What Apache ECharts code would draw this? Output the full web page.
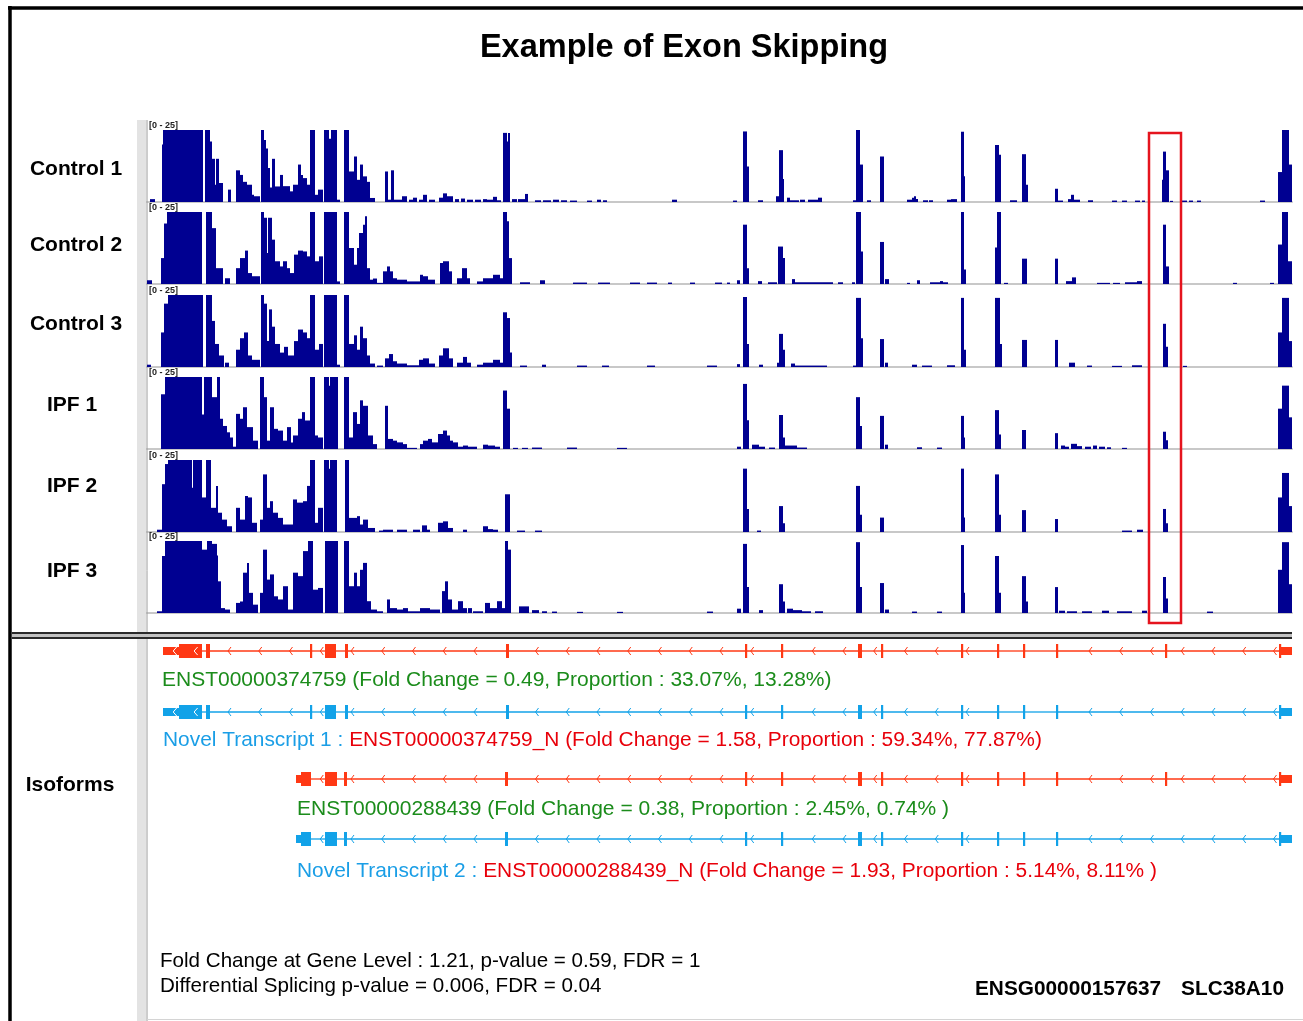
<!DOCTYPE html>
<html>
<head>
<meta charset="utf-8">
<title>Example of Exon Skipping</title>
<script src="https://cdn.jsdelivr.net/npm/echarts@6/dist/echarts.min.js"></script>
<style>
html, body { margin: 0; padding: 0; background: #fff; }
#chart { width: 1303px; height: 1021px; }
</style>
</head>
<body>
<div id="chart"></div>
<script>
// coverage per sample: [start, end, depth], positions in view bins (0 - 1145), depth range [0 - 25]
var control1 = [[3,8,1],[15,16,20],[16,56,25],[58,63,25],[63,65,21],[65,68,15],[68,69,6],[69,72,15],[72,76,6.6],[81,84,4.3],[89,93,11],[93,96,9.4],[96,100,7],[100,105,6],[105,107,2.5],[107,113,2],[114,117,25],[117,119,21.5],[119,121,18.6],[121,123,11.8],[123,125,5],[125,128,15],[128,133,5.4],[133,136,9.4],[136,143,5.5],[143,146,3.7],[146,151,6],[151,154,13],[154,156,9.4],[156,160,8.3],[160,163,6],[163,168,25],[168,171,2.5],[171,176,4.3],[177,182,25],[182,184,22],[184,190,25],[190,193,0.8],[197,202,25],[202,207,10.6],[207,210,15.8],[210,213,7.7],[213,216,13],[216,220,8.9],[220,223,7],[223,228,1.4],[238,241,10.6],[241,244,0.8],[244,247,11],[247,255,0.8],[255,260,2],[262,266,0.8],[266,270,1.5],[272,276,0.8],[276,280,2.5],[282,288,0.8],[292,296,1.5],[296,300,3],[300,306,2],[308,312,1],[314,318,1.2],[320,326,0.8],[328,334,0.8],[336,340,1],[340,346,0.8],[346,350,1.8],[350,354,0.6],[356,360,24],[360,361,21],[361,363,24],[365,370,1],[371,378,1],[378,381,2.8],[388,394,0.6],[396,404,0.6],[406,412,0.8],[414,420,0.6],[423,430,0.5],[440,445,0.5],[450,454,0.8],[456,460,0.6],[525,530,0.8],[586,590,0.5],[596,600,24.5],[600,602,12.3],[611,616,0.6],[629,632,2],[632,636,18],[636,637,8],[640,643,1.5],[643,652,0.6],[653,658,0.8],[661,673,0.8],[671,675,1.5],[706,709,0.6],[709,713,25],[713,716,13],[720,724,0.6],[733,737,15.8],[760,765,0.8],[765,767,1.5],[767,769,2],[769,771,1],[776,781,0.6],[782,786,0.6],[800,804,0.8],[804,810,1],[814,817,24.4],[817,818,8.9],[848,852,19.8],[852,854,16.4],[863,870,0.6],[875,879,16.6],[879,881,6],[908,911,4.6],[911,916,0.5],[921,924,1],[924,927,2.5],[927,933,0.8],[941,946,0.6],[965,970,0.5],[975,980,0.5],[988,993,0.5],[995,998,0.5],[1015,1016,7.7],[1016,1019,17.5],[1019,1022,11],[1023,1026,0.4],[1035,1040,0.5],[1042,1046,0.5],[1050,1054,0.5],[1113,1118,0.5],[1131,1135,10.4],[1135,1142,25],[1142,1145,13]];

var control2 = [[0,5,1.3],[14,17,9],[17,20,21],[20,55,25],[59,65,25],[65,69,19.4],[69,76,5.5],[78,83,2],[89,93,5.5],[93,98,9],[98,101,11.6],[101,105,3.8],[105,113,2.7],[114,117,25],[117,120,23],[120,121,10.8],[121,125,23],[125,128,15.4],[128,133,7.9],[133,136,6.1],[136,140,7.9],[140,143,5.5],[143,147,3.8],[147,151,10.2],[151,156,11.6],[156,160,11.3],[160,163,9.6],[163,168,25],[168,172,7.9],[172,176,9.6],[177,190,25],[190,193,0.9],[197,202,25],[202,207,12.5],[207,210,6.7],[210,212,12.5],[212,216,17.7],[216,218,20.6],[218,220,23.5],[220,223,5.5],[223,226,1.5],[226,230,1.9],[230,236,0.4],[236,240,4.4],[240,243,6.1],[243,246,4.4],[246,250,2],[250,260,1.5],[260,273,0.9],[273,276,3.2],[276,281,2.7],[281,288,1.5],[293,296,7.3],[296,302,7.9],[302,305,4.4],[310,315,2],[315,320,5.5],[320,323,2],[330,336,0.9],[336,346,2],[346,353,3.2],[353,356,2],[356,360,25],[360,362,21.8],[362,365,9],[373,383,0.6],[393,398,1.3],[426,440,0.5],[451,463,0.5],[483,493,0.5],[500,510,0.5],[521,525,0.5],[543,548,0.5],[568,575,0.5],[580,583,0.5],[590,593,1.3],[596,600,20.6],[600,602,5.5],[611,615,1],[621,630,0.6],[631,636,13],[636,638,9],[645,648,1.7],[648,686,0.6],[691,696,0.6],[705,708,0.6],[709,714,25],[714,716,11.3],[733,737,14.6],[738,742,1.7],[760,763,0.4],[770,773,1.3],[783,801,0.6],[793,796,1],[814,817,25],[817,819,5],[848,850,12.7],[850,854,25],[857,861,0.4],[875,880,8.8],[908,911,8.8],[919,925,1],[925,929,2.3],[950,963,0.4],[966,973,0.4],[978,990,0.6],[990,995,1],[1016,1019,20.6],[1019,1022,6.1],[1086,1090,0.4],[1123,1127,0.4],[1131,1135,13.7],[1135,1141,25],[1141,1145,7.9]];

var control3 = [[0,4,0.8],[14,17,12],[17,21,22],[21,56,25],[59,65,25],[65,68,16],[68,72,8],[72,77,4],[78,82,1.5],[89,93,6],[93,97,10],[97,101,12],[101,105,4],[105,113,2.5],[114,117,25],[117,120,22],[120,122,9],[122,125,20],[125,128,14],[128,133,8],[133,137,5],[137,141,7],[141,147,4],[147,151,9],[151,156,13],[156,160,12],[160,163,10],[163,168,25],[168,172,6],[172,176,8],[177,190,25],[190,193,0.8],[197,202,25],[202,207,8],[207,210,11],[210,213,6],[213,216,14],[216,220,10],[220,223,4],[223,228,1.2],[230,236,0.5],[238,242,3],[242,246,4.5],[246,250,2],[250,260,1.2],[260,272,0.6],[272,276,2.5],[276,282,3],[282,288,1.2],[292,296,4],[296,302,6.5],[302,306,3],[310,316,1.5],[316,320,3.5],[320,324,1.5],[330,336,0.8],[336,346,1.5],[346,353,2.5],[353,356,1.5],[356,360,19],[360,363,17],[363,365,5],[373,380,0.5],[395,399,0.8],[430,440,0.5],[455,462,0.5],[500,508,0.5],[560,570,0.5],[590,593,1],[596,600,24.3],[600,602,8],[612,616,0.8],[630,632,1.5],[632,636,11.5],[636,638,6],[644,648,1.2],[648,680,0.5],[706,709,0.5],[709,714,24],[714,716,10],[733,737,9.7],[738,741,1.5],[765,770,0.8],[775,785,0.5],[800,808,0.6],[814,817,24],[817,819,6],[848,853,24],[853,855,8],[875,880,9.4],[908,911,9.4],[922,928,1.5],[940,945,0.5],[965,975,0.4],[985,995,0.6],[1016,1019,15],[1019,1021,7],[1036,1040,0.4],[1131,1135,12],[1135,1142,24],[1142,1145,9]];

var ipf1 = [[14,18,19],[18,55,25],[55,57,12],[57,65,25],[65,70,18],[70,73,25],[73,76,10.5],[76,80,8],[80,83,5.8],[83,86,4],[86,90,0.8],[89,93,12.2],[93,96,10.5],[96,100,14.5],[100,106,7.6],[106,111,2.9],[113,117,25],[117,120,18],[120,123,2.9],[123,127,14.5],[127,131,7],[131,136,6.4],[136,140,2.9],[140,144,7.6],[144,146,2.3],[146,151,4.7],[151,155,10.5],[155,158,12.8],[158,163,9.9],[163,168,25],[168,171,4.7],[171,176,4],[177,182,25],[182,183,22],[183,191,25],[197,202,25],[202,206,4],[206,210,12.8],[210,213,8.7],[213,216,16.9],[216,221,15],[221,226,4.7],[226,230,1.7],[238,241,15],[241,246,3.5],[246,250,2.9],[250,256,2.3],[256,260,1.7],[260,270,0.4],[273,276,1.7],[276,281,2.9],[281,285,3.5],[285,291,2.3],[291,296,5.2],[296,300,6.4],[300,303,4.7],[303,306,2.9],[306,311,2.3],[311,316,0.8],[316,321,1.2],[321,330,0.8],[336,341,1.5],[341,348,1.2],[348,353,0.8],[356,360,20.3],[360,363,14],[366,371,0.4],[375,381,0.4],[385,395,0.5],[420,430,0.5],[470,480,0.4],[590,594,0.8],[596,600,22.6],[600,602,10],[605,612,1.5],[612,618,0.8],[622,628,0.5],[632,636,11.8],[636,638,4],[638,650,1.2],[650,660,0.5],[709,713,18],[713,715,8],[733,737,11.5],[738,741,1.5],[770,775,0.6],[790,795,0.5],[814,817,11.5],[817,818,4],[848,852,13.5],[852,854,5],[875,879,6.6],[908,911,5.5],[914,918,1.2],[918,922,0.8],[924,930,1.8],[930,935,1],[938,944,0.8],[946,950,1.2],[952,958,0.8],[960,964,0.6],[975,980,0.4],[1016,1019,6],[1019,1021,3],[1131,1135,14],[1135,1142,22],[1142,1145,11]];

var ipf2 = [[10,15,0.8],[15,18,16.6],[18,21,23.6],[21,45,25],[45,46,15.4],[46,55,25],[55,59,12],[59,64,25],[64,69,8.4],[69,71,16],[71,75,6.7],[75,80,4.3],[80,85,2],[89,93,8.4],[93,98,4.3],[98,101,12.5],[101,105,12],[105,110,3.2],[113,116,4.3],[116,120,20],[120,123,8.4],[123,126,10.7],[126,131,6.7],[131,136,4.9],[136,146,2.6],[146,150,11.3],[150,156,10.2],[156,160,10.7],[160,163,16],[163,168,25],[168,171,3.2],[171,176,8.4],[177,182,25],[182,183,22],[183,190,25],[198,202,25],[202,206,4.9],[206,210,4.9],[210,213,5.5],[213,216,2.6],[216,221,4.3],[221,228,1.4],[232,236,0.5],[236,246,0.8],[250,260,0.8],[266,273,0.8],[275,280,2.3],[280,283,0.8],[291,296,3.2],[296,301,3.7],[301,306,1.4],[316,320,0.8],[336,341,2],[341,346,1],[346,351,0.8],[358,363,13.1],[370,378,0.5],[388,395,0.5],[596,600,22],[600,602,8],[610,614,0.5],[632,636,9],[636,638,3],[709,713,16],[713,715,6],[733,737,5],[814,817,22],[817,818,5],[848,852,20],[852,854,6],[875,879,7.6],[908,911,4.5],[975,985,0.5],[990,996,0.8],[1016,1019,8],[1019,1021,3],[1131,1135,12],[1135,1142,20.5],[1142,1145,9]];

var ipf3 = [[10,15,0.6],[15,18,19.8],[18,55,25],[55,60,22],[60,65,25],[65,70,24],[70,71,20],[71,74,11],[74,78,1.7],[78,83,1.2],[89,93,3.5],[93,96,4],[96,100,14],[100,102,17.4],[102,106,7],[106,111,2.9],[113,116,7],[116,120,22],[120,123,11.6],[123,127,13.4],[127,131,5.8],[131,136,4.7],[136,141,9.3],[141,146,1.2],[146,151,14],[151,156,12.8],[156,161,21.5],[161,166,25],[166,171,8.1],[171,176,8.7],[178,191,25],[197,202,25],[202,207,9.3],[207,210,14],[210,213,9.3],[213,216,15],[216,220,17.4],[220,224,4.1],[224,230,1.2],[230,236,0.6],[240,243,4.7],[243,250,1.7],[250,256,1.2],[256,261,1.7],[261,273,0.6],[273,283,1.7],[283,293,1.2],[295,298,7.6],[298,301,11],[301,305,4.7],[305,311,1.2],[311,316,4.1],[316,320,1.7],[321,325,1.7],[326,336,0.6],[338,343,3.5],[343,350,1.7],[350,355,4.1],[355,358,1.7],[358,361,25],[361,364,22],[372,382,2.3],[385,392,1],[395,400,0.6],[405,410,0.5],[430,436,0.4],[470,476,0.4],[560,566,0.5],[590,594,1.5],[596,600,24],[600,602,9],[612,616,1],[632,636,10],[636,638,4],[640,646,1.5],[646,655,1],[655,664,0.6],[668,676,0.6],[709,713,24.6],[713,715,9],[733,737,10.4],[738,742,1.2],[765,770,0.5],[790,795,0.5],[814,817,23.6],[817,818,7],[848,852,19.8],[852,854,7],[875,879,12.8],[879,881,4],[908,911,9],[912,918,0.8],[920,930,0.6],[935,945,0.6],[955,962,0.8],[970,985,0.6],[995,1000,0.8],[1016,1019,12.5],[1019,1021,5],[1060,1066,0.5],[1131,1135,15],[1135,1142,24.6],[1142,1145,10]];

var sampleNames = ['Control 1', 'Control 2', 'Control 3', 'IPF 1', 'IPF 2', 'IPF 3'];
var coverage = [control1, control2, control3, ipf1, ipf2, ipf3];
var depthRange = [0, 25];
var viewRange = [0, 1145];

// exons [start, end, coding(1) / UTR(0)]
var enst374759 = [[16,32,0],[32,55,1],[59,63,1],[163,165,1],[178,189,1],[198,201,1],[359,362,1],[598,600,1],[634,636,1],[711,715,1],[734,736,1],[814,816,1],[850,852,1],[876,878,1],[909,911,1],[1018,1020,1],[1132,1134,1],[1134,1145,0]];
var novel1 = [[16,32,0],[32,55,1],[59,63,1],[163,165,1],[178,189,1],[198,201,1],[359,362,1],[598,600,1],[634,636,1],[711,715,1],[734,736,1],[814,816,1],[850,852,1],[876,878,1],[909,911,1],[1132,1134,1],[1134,1145,0]];
var enst288439 = [[149,154,0],[154,164,1],[178,190,1],[197,200,1],[358,361,1],[598,600,1],[634,636,1],[711,715,1],[734,736,1],[814,816,1],[850,852,1],[876,878,1],[909,911,1],[1018,1020,1],[1132,1134,1],[1134,1145,0]];
var novel2 = [[149,154,0],[154,164,1],[178,190,1],[197,200,1],[358,361,1],[598,600,1],[634,636,1],[711,715,1],[734,736,1],[814,816,1],[850,852,1],[876,878,1],[909,911,1],[1132,1134,1],[1134,1145,0]];

var isoforms = [enst374759, novel1, enst288439, novel2];
var skippedExon = [1002, 1034];   // region boxed in red

var RED = '#ff3814', BLUE = '#12a2e8';
var isoColors = [RED, BLUE, RED, BLUE];
var FONT = '"Liberation Sans", Arial, Helvetica, sans-serif';

var trackTop = [130, 212, 295, 377, 460, 541];
var trackH = 72;
var labelY = [169, 245, 324, 405, 486, 571];
var rowY = [651, 712, 779, 839];

var chart = echarts.init(document.getElementById('chart'));

function renderCoverage(params, api) {
    var d = Math.min(api.value(2), depthRange[1]);
    var p0 = api.coord([api.value(0), d]);
    var p1 = api.coord([api.value(1), 0]);
    return {
        type: 'rect',
        shape: { x: p0[0], y: p0[1], width: Math.max(p1[0] - p0[0], 1), height: p1[1] - p0[1] },
        style: { fill: '#000091' }
    };
}

function exonRenderer(color) {
    return function (params, api) {
        var a = api.coord([api.value(0), 0.5]);
        var b = api.coord([api.value(1), 0.5]);
        var h = api.value(2) ? 14 : 8;
        var w = Math.max(b[0] - a[0], 2.2);
        var kids = [{ type: 'rect', shape: { x: a[0], y: a[1] - h / 2, width: w, height: h }, style: { fill: color } }];
        if (w > 15) {
            var cx = a[0] + w * 0.7;
            kids.push({ type: 'polyline', shape: { points: [[cx + 2.5, a[1] - 4], [cx - 1, a[1]], [cx + 2.5, a[1] + 4]] },
                style: { stroke: '#fff', lineWidth: 1, fill: null } });
        }
        return { type: 'group', children: kids };
    };
}

function intronRenderer(color) {
    return function (params, api) {
        var a = api.coord([api.value(0), 0.5]);
        var b = api.coord([api.value(1), 0.5]);
        var kids = [{ type: 'line', shape: { x1: a[0], y1: a[1], x2: b[0], y2: b[1] }, style: { stroke: color, lineWidth: 1.3 } }];
        // strand chevrons on a fixed pitch
        var o = api.coord([81, 0.5])[0];
        var pitch = api.coord([81 + 30.75, 0.5])[0] - o;
        var k = Math.ceil((a[0] + 3 - o) / pitch);
        for (var x = o + k * pitch; x < b[0] - 3; x += pitch) {
            kids.push({ type: 'polyline', shape: { points: [[x + 3, a[1] - 4], [x, a[1]], [x + 3, a[1] + 4]] },
                style: { stroke: color, lineWidth: 1, fill: null } });
        }
        return { type: 'group', children: kids };
    };
}

var grids = [], xAxes = [], yAxes = [], series = [];

coverage.forEach(function (track, i) {
    grids.push({ left: 147, right: 11, top: trackTop[i], height: trackH });
    xAxes.push({ type: 'value', gridIndex: i, min: viewRange[0], max: viewRange[1],
        axisLine: { show: true, lineStyle: { color: '#c8c8c8', width: 2 } },
        axisTick: { show: false }, axisLabel: { show: false }, splitLine: { show: false } });
    yAxes.push({ type: 'value', gridIndex: i, min: depthRange[0], max: depthRange[1], show: false });
    series.push({ type: 'custom', name: sampleNames[i], xAxisIndex: i, yAxisIndex: i,
        renderItem: renderCoverage, encode: { x: [0, 1], y: 2 }, data: track, silent: true });
});

isoforms.forEach(function (exons, r) {
    var gi = coverage.length + r;
    grids.push({ left: 147, right: 11, top: rowY[r] - 8, height: 16 });
    xAxes.push({ type: 'value', gridIndex: gi, min: viewRange[0], max: viewRange[1], show: false });
    yAxes.push({ type: 'value', gridIndex: gi, min: 0, max: 1, show: false });
    var introns = [];
    for (var j = 0; j < exons.length - 1; j++) {
        if (exons[j + 1][0] > exons[j][1]) introns.push([exons[j][1], exons[j + 1][0]]);
    }
    series.push({ type: 'custom', xAxisIndex: gi, yAxisIndex: gi, renderItem: intronRenderer(isoColors[r]),
        encode: { x: [0, 1] }, data: introns, silent: true, z: 2 });
    series.push({ type: 'custom', xAxisIndex: gi, yAxisIndex: gi, renderItem: exonRenderer(isoColors[r]),
        encode: { x: [0, 1] }, data: exons, silent: true, z: 3 });
});

function txt(x, y, text, size, opts) {
    opts = opts || {};
    return {
        type: 'text', x: x, y: y, z: 50,
        style: {
            text: text, fill: opts.fill || '#000', fontSize: size, fontFamily: FONT,
            fontWeight: opts.bold ? 'bold' : 'normal', textAlign: opts.align || 'left',
            textVerticalAlign: 'middle', rich: opts.rich
        }
    };
}

var graphics = [
    // frame
    { type: 'line', z: 40, shape: { x1: 8, y1: 8, x2: 1303, y2: 8 }, style: { stroke: '#000', lineWidth: 3.5 } },
    { type: 'line', z: 40, shape: { x1: 10, y1: 6, x2: 10, y2: 1021 }, style: { stroke: '#000', lineWidth: 3.5 } },
    { type: 'rect', z: 1, shape: { x: 137, y: 120, width: 9, height: 901 }, style: { fill: '#e3e3e3' } },
    { type: 'line', z: 1, shape: { x1: 147, y1: 120, x2: 147, y2: 1021 }, style: { stroke: '#9a9a9a', lineWidth: 1 } },
    { type: 'line', z: 1, shape: { x1: 147, y1: 1019.5, x2: 1303, y2: 1019.5 }, style: { stroke: '#d4d4d4', lineWidth: 1 } },
    // divider between data and isoform panels
    { type: 'rect', z: 40, shape: { x: 12, y: 632, width: 1280, height: 7 }, style: { fill: '#c2c2c2' } },
    { type: 'line', z: 41, shape: { x1: 12, y1: 633, x2: 1292, y2: 633 }, style: { stroke: '#2a2a2a', lineWidth: 2 } },
    { type: 'line', z: 41, shape: { x1: 12, y1: 638, x2: 1292, y2: 638 }, style: { stroke: '#2a2a2a', lineWidth: 2 } },
    txt(684, 48, 'Example of Exon Skipping', 32.5, { bold: true, align: 'center' }),
    txt(70, 785, 'Isoforms', 21, { bold: true, align: 'center' }),
    txt(160, 961, 'Fold Change at Gene Level : 1.21, p-value = 0.59, FDR = 1', 20.6),
    txt(160, 986, 'Differential Splicing p-value = 0.006, FDR = 0.04', 20.6),
    txt(975, 989, 'ENSG00000157637', 20.8, { bold: true }),
    txt(1284, 989, 'SLC38A10', 20.8, { bold: true, align: 'right' })
];

sampleNames.forEach(function (name, i) {
    graphics.push(txt(i < 3 ? 76 : 72, labelY[i], name, 21, { bold: true, align: 'center' }));
    graphics.push(txt(149, trackTop[i] - 4, '[0 - 25]', 9, { bold: true, fill: '#222' }));
});

var GREEN = '#1b8c1b', TRED = '#e8000a', TBLUE = '#1a9ee6';
function rich(size) {
    return {
        b: { fill: TBLUE, fontSize: size, fontFamily: FONT },
        r: { fill: TRED, fontSize: size, fontFamily: FONT }
    };
}
graphics.push(txt(162, 680, 'ENST00000374759 (Fold Change = 0.49, Proportion : 33.07%, 13.28%)', 21, { fill: GREEN }));
graphics.push(txt(163, 740, '{b|Novel Transcript 1 : }{r|ENST00000374759_N (Fold Change = 1.58, Proportion : 59.34%, 77.87%)}', 21, { rich: rich(20.9) }));
graphics.push(txt(297, 809, 'ENST00000288439 (Fold Change = 0.38, Proportion : 2.45%, 0.74% )', 21, { fill: GREEN }));
graphics.push(txt(297, 871, '{b|Novel Transcript 2 : }{r|ENST00000288439_N (Fold Change = 1.93, Proportion : 5.14%, 8.11% )}', 21, { rich: rich(20.9) }));

var option = {
    backgroundColor: '#fff',
    animation: false,
    grid: grids,
    xAxis: xAxes,
    yAxis: yAxes,
    series: series,
    graphic: graphics
};
chart.setOption(option);

// highlight box around the skipped exon, spanning every sample track
var bx0 = chart.convertToPixel({ xAxisIndex: 0, yAxisIndex: 0 }, [skippedExon[0], 24])[0];
var bx1 = chart.convertToPixel({ xAxisIndex: 0, yAxisIndex: 0 }, [skippedExon[1], 24])[0];
var by0 = chart.convertToPixel({ xAxisIndex: 0, yAxisIndex: 0 }, [skippedExon[0], 24])[1];
var by1 = chart.convertToPixel({ xAxisIndex: 5, yAxisIndex: 5 }, [skippedExon[0], 0])[1] + 10;
graphics.push({ type: 'rect', z: 60, shape: { x: bx0, y: by0, width: bx1 - bx0, height: by1 - by0 },
    style: { fill: null, stroke: '#e5141e', lineWidth: 2.5 } });
chart.setOption({ graphic: graphics });
</script>
</body>
</html>
